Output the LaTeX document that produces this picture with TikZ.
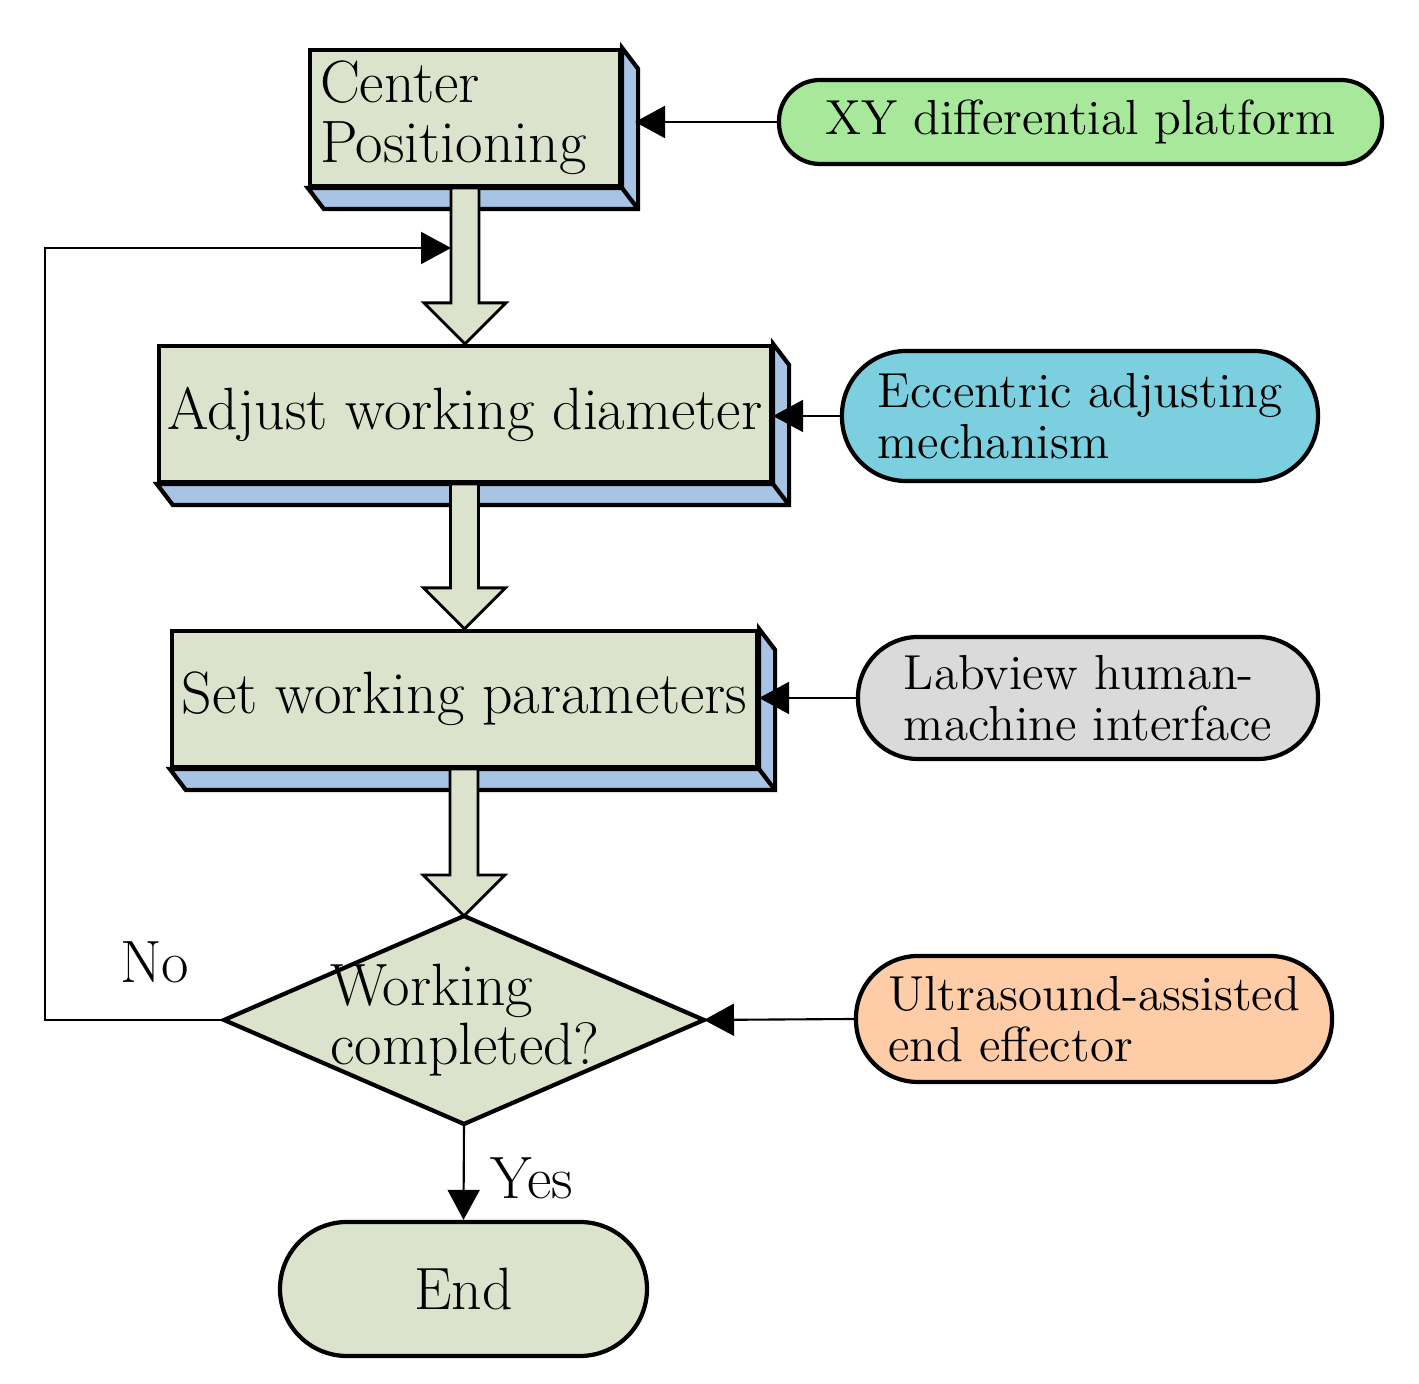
\documentclass[tikz,border=0pt]{standalone}
\usetikzlibrary{arrows.meta,positioning,shapes,calc,backgrounds}
\definecolor{boxfill}{HTML}{DCE3CC}
\definecolor{depthfill}{HTML}{A7C4E5}
\definecolor{ovgreen}{HTML}{A8E89A}
\definecolor{ovblue}{HTML}{7BCFDF}
\definecolor{ovgray}{HTML}{DADADA}
\definecolor{ovorange}{HTML}{FFCCA8}
\tikzset{
  mainfont/.style={font=\fontsize{17}{17}\selectfont},
  box/.style={draw,line width=1.2pt,fill=boxfill,minimum height=1.36cm,inner sep=2pt,mainfont},
  oval/.style={draw,line width=1.2pt,inner sep=2pt,align=left,font=\fontsize{14}{14.5}\selectfont},
  link/.style={line width=0.6pt,-{Triangle[length=0.3cm,width=0.32cm]}},
  blockarr/.style={draw,line width=0.8pt,fill=boxfill}
}
\newcommand\depthface[1]{
  \begin{scope}[on background layer]
  \filldraw[line width=1.2pt,fill=depthfill] (#1.north east) -- ++(0.16,-0.21) -- ($(#1.south east)+(0.16,-0.21)$) -- ($(#1.south west)+(0.16,-0.21)$) -- (#1.south west) -- (#1.south east) -- cycle;
  \draw[line width=1.2pt] (#1.south east) -- ++(0.16,-0.21);
  \end{scope}}
\newcommand\blockarrow[2]{
  \draw[blockarr] ($(#1 -| #2)+(-0.14,0)$) -- ($(#2)+(-0.14,0.41)$) -- ++(-0.27,0) -- (#2) -- ++(0.41,0.41) -- ++(-0.27,0) -- ($(#1 -| #2)+(0.14,0)$) -- cycle;}
\begin{document}
\begin{tikzpicture}
\useasboundingbox (0,0) rectangle (14.19,-13.84);
% main column
\node[box,minimum width=3.1cm,text width=2.9cm,align=left] (center) at (4.65,-1.18) {Center\\Positioning};
\node[box,minimum width=6.12cm] (adjust) at (4.65,-4.14) {Adjust working diameter};
\node[box,minimum width=5.85cm] (param) at (4.645,-6.99) {Set working parameters};
\depthface{center}
\depthface{adjust}
\depthface{param}
% decision
\coordinate (dtop) at (4.64,-9.16);
\coordinate (dleft) at (2.24,-10.2);
\coordinate (dright) at (7.04,-10.2);
\coordinate (dbot) at (4.64,-11.24);
\draw[line width=1.2pt,fill=boxfill] (dtop) -- (dright) -- (dbot) -- (dleft) -- cycle;
\node[align=left,mainfont] (done) at (4.65,-10.2) {Working\\completed?};
\node[box,rounded corners=0.67cm,minimum width=3.67cm,minimum height=1.34cm] (end) at (4.635,-12.89) {End};
% block arrows
\blockarrow{center.south}{adjust.north}
\blockarrow{adjust.south}{param.north}
\blockarrow{param.south}{dtop}
% resources
\node[oval,fill=ovgreen,rounded corners=0.41cm,minimum width=6.03cm,minimum height=0.84cm] (xy) at (10.805,-1.22) {XY differential platform};
\node[oval,fill=ovblue,rounded corners=0.64cm,minimum width=4.76cm,minimum height=1.3cm] (ecc) at (10.8,-4.16) {Eccentric adjusting\\mechanism};
\node[oval,fill=ovgray,rounded corners=0.6cm,minimum width=4.6cm,minimum height=1.22cm] (lab) at (10.88,-6.98) {Labview human-\\machine interface};
\node[oval,fill=ovorange,rounded corners=0.62cm,minimum width=4.76cm,minimum height=1.26cm] (ultra) at (10.94,-10.19) {Ultrasound-assisted\\end effector};
\draw[link] (xy.west) -- (xy.west -| 6.35,0);
\draw[link] (ecc.west) -- (ecc.west -| adjust.east);
\draw[link] (lab.west) -- (lab.west -| param.east);
\draw[link] (ultra.west) -- (dright);
% loop back and end
\coordinate (back) at (4.51,-2.48);
\draw[link] (dleft) -- (0.45,-10.2) -- (0.45,-2.48) -- (back);
\draw[link] (dbot) -- (end.north);
\node[mainfont] (no) at (1.55,-9.62) {No};
\node[mainfont] (yes) at (5.32,-11.78) {Yes};
\end{tikzpicture}
\end{document}
